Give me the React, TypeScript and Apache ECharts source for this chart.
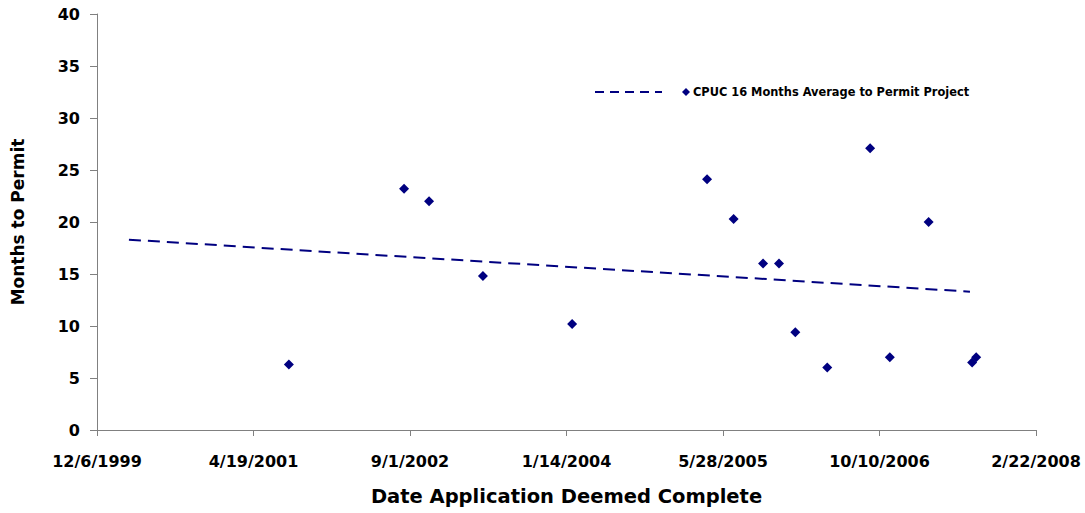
import React, { useEffect, useRef } from "react";
import * as echarts from "echarts";

// Excel serial dates (days since 12/30/1899) and months to permit
const dates: number[] = [37113, 37481, 37561, 37733, 38018, 38449, 38534, 38628, 38679, 38731, 38833, 38970, 39033, 39157, 39296, 39309];
const months: number[] = [6.3, 23.2, 22.0, 14.8, 10.2, 24.1, 20.3, 16.0, 16.0, 9.4, 6.0, 27.1, 7.0, 20.0, 6.5, 7.0];

// dashed trend line end points [serial date, months]
const trendDates: number[] = [36602, 39289];
const trendMonths: number[] = [18.3, 13.3];

const seriesName = "CPUC 16 Months Average to Permit Project";
const xTitle = "Date Application Deemed Complete";
const yTitle = "Months to Permit";

const xMin = 36500;
const xMax = 39500;
const xStep = 500;
const yMin = 0;
const yMax = 40;
const yStep = 5;

const NAVY = "#000080";
const AXIS = "#808080";
const FONT = "DejaVu Sans";

function serialToLabel(v: number): string {
  const d = new Date(Date.UTC(1899, 11, 30) + Math.round(v) * 86400000);
  return `${d.getUTCMonth() + 1}/${d.getUTCDate()}/${d.getUTCFullYear()}`;
}

export default function App() {
  const ref = useRef<HTMLDivElement>(null);
  useEffect(() => {
    if (!ref.current) return;
    const chart = echarts.init(ref.current, undefined, { renderer: "svg" });
    const points = dates.map((d, i) => [d, months[i]]);
    const trend = trendDates.map((d, i) => [d, trendMonths[i]]);
    chart.setOption({
      animation: false,
      backgroundColor: "#ffffff",
      grid: { left: 97, right: 49, top: 14, bottom: 83, containLabel: false },
      xAxis: {
        type: "value",
        min: xMin,
        max: xMax,
        interval: xStep,
        name: xTitle,
        nameLocation: "middle",
        nameGap: 56,
        nameTextStyle: { fontFamily: FONT, fontWeight: "bold", fontSize: 19.5, color: "#000" },
        axisLine: { show: true, lineStyle: { color: AXIS, width: 1 } },
        axisTick: { show: true, inside: false, length: 6, lineStyle: { color: AXIS } },
        axisLabel: {
          formatter: (v: number) => serialToLabel(v),
          fontFamily: FONT,
          fontWeight: "bold",
          fontSize: 16,
          color: "#000",
          margin: 23,
          showMinLabel: true,
          showMaxLabel: true,
        },
        splitLine: { show: false },
      },
      yAxis: {
        type: "value",
        min: yMin,
        max: yMax,
        interval: yStep,
        name: yTitle,
        nameLocation: "middle",
        nameGap: 71,
        nameRotate: 90,
        nameTextStyle: { fontFamily: FONT, fontWeight: "bold", fontSize: 17, color: "#000" },
        axisLine: { show: true, lineStyle: { color: AXIS, width: 1 } },
        axisTick: { show: true, inside: false, length: 7, lineStyle: { color: AXIS } },
        axisLabel: { fontFamily: FONT, fontWeight: "bold", fontSize: 16, color: "#000", margin: 17 },
        splitLine: { show: false },
      },
      series: [
        {
          name: "trend",
          type: "line",
          data: trend,
          symbol: "none",
          silent: true,
          lineStyle: { color: NAVY, width: 2, type: [12, 7] },
          z: 2,
        },
        {
          name: seriesName,
          type: "scatter",
          data: points,
          symbol: "diamond",
          symbolSize: [10, 10],
          itemStyle: { color: NAVY, opacity: 1 },
          z: 3,
        },
      ],
      graphic: [
        {
          type: "line",
          shape: { x1: 595, y1: 92, x2: 662, y2: 92 },
          style: { stroke: NAVY, lineWidth: 2, lineDash: [9, 6] },
        },
        {
          type: "polygon",
          shape: { points: [[686, 88], [690, 92], [686, 96], [682, 92]] },
          style: { fill: NAVY },
        },
        {
          type: "text",
          x: 693,
          y: 92,
          style: {
            text: seriesName,
            fontFamily: FONT,
            fontWeight: "bold",
            fontSize: 11.4,
            fill: "#000",
            verticalAlign: "middle",
            align: "left",
          },
        },
      ],
    });
    return () => chart.dispose();
  }, []);
  return (
    <div
      ref={ref}
      style={{ position: "fixed", left: 0, top: 0, width: 1085, height: 513, background: "#fff" }}
    />
  );
}
